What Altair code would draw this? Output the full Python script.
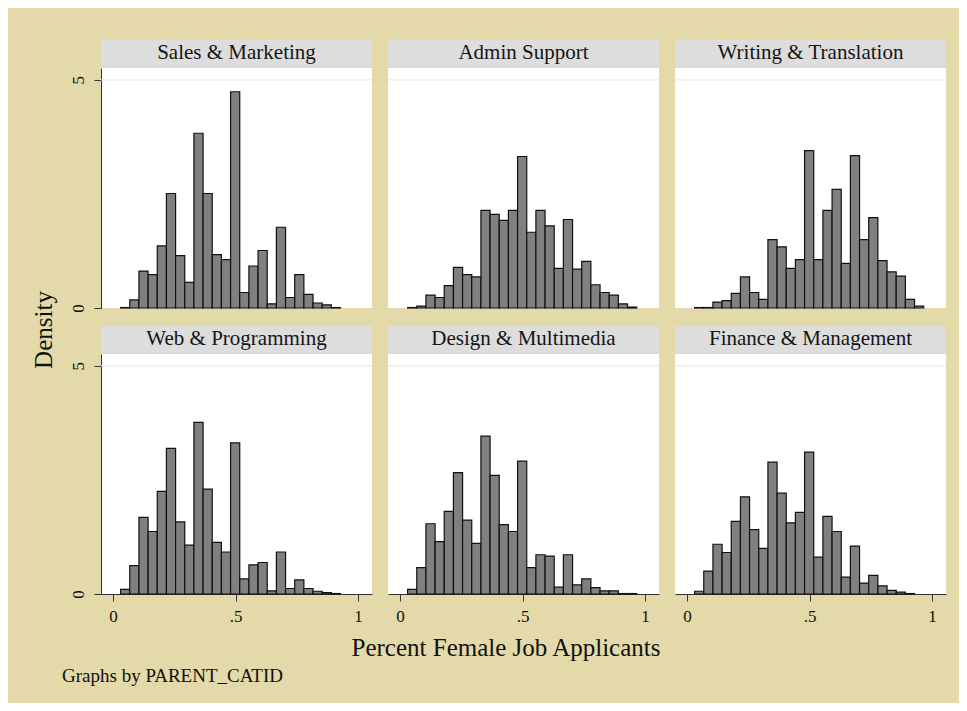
import altair as alt
import pandas as pd

FONT = "Liberation Serif"

categories = ["Sales & Marketing", "Admin Support", "Writing & Translation",
              "Web & Programming", "Design & Multimedia", "Finance & Management"]

# histogram bins (Stata-style equal width bins)
bin_start = 0.031
bin_width = 0.0374

sales_marketing = [0.01, 0.18, 0.81, 0.73, 1.36, 2.51, 1.15, 0.56, 3.83, 2.51, 1.17, 1.06,
                   4.74, 0.34, 0.92, 1.26, 0.09, 1.77, 0.23, 0.73, 0.30, 0.11, 0.07, 0.01]
admin_support = [0.01, 0.04, 0.28, 0.23, 0.49, 0.89, 0.73, 0.68, 2.14, 2.05, 1.92, 2.14,
                 3.32, 1.66, 2.14, 1.80, 0.87, 1.94, 0.85, 1.02, 0.51, 0.34, 0.28, 0.09, 0.02]
writing_translation = [0.01, 0.01, 0.13, 0.16, 0.32, 0.68, 0.34, 0.19, 1.50, 1.34, 0.87, 1.06,
                       3.45, 1.06, 2.14, 2.60, 0.98, 3.34, 1.50, 1.98, 1.04, 0.79, 0.70, 0.19, 0.04]
web_programming = [0.10, 0.62, 1.68, 1.37, 2.25, 3.19, 1.58, 1.07, 3.76, 2.30, 1.13, 0.92,
                   3.31, 0.33, 0.64, 0.69, 0.07, 0.92, 0.12, 0.31, 0.12, 0.06, 0.03, 0.01]
design_multimedia = [0.10, 0.58, 1.54, 1.15, 1.81, 2.66, 1.62, 1.11, 3.46, 2.60, 1.52, 1.37,
                     2.91, 0.58, 0.86, 0.83, 0.15, 0.86, 0.20, 0.33, 0.14, 0.07, 0.07, 0.01, 0.01]
finance_management = [0.06, 0.50, 1.09, 0.91, 1.59, 2.13, 1.41, 1.00, 2.89, 2.21, 1.56, 1.79,
                      3.11, 0.81, 1.70, 1.37, 0.37, 1.05, 0.24, 0.41, 0.18, 0.08, 0.04, 0.01]

series = [sales_marketing, admin_support, writing_translation,
          web_programming, design_multimedia, finance_management]

x_ticks = [0, 0.5, 1]
y_ticks = [0, 5]
grid_at = [5]
x_title = "Percent Female Job Applicants"
y_title = "Density"
note = "Graphs by PARENT_CATID"

W, H = 271, 240
HEADER = 28
xscale = alt.Scale(domain=[-0.049, 1.057], nice=False, zero=False)
yscale = alt.Scale(domain=[0, 5.26], nice=False, zero=False)


def one(txt):
    return pd.DataFrame({"t": [txt]})


def panel(idx):
    name = categories[idx]
    vals = series[idx]
    row, col = divmod(idx, 3)
    df = pd.DataFrame({
        "x0": [bin_start + i * bin_width for i in range(len(vals))],
        "density": vals,
    })
    df["x1"] = df["x0"] + bin_width
    df["base"] = 0.0

    if row == 1:
        xaxis = alt.Axis(values=x_ticks, title=None, grid=False, tickSize=7,
                         labelExpr="datum.value == 0.5 ? '.5' : format(datum.value, 'd')",
                         labelFontSize=17, labelPadding=7, labelColor="#111",
                         domainColor="#333", tickColor="#333", labelFont=FONT)
    else:
        xaxis = None
    if col == 0:
        yaxis = alt.Axis(values=y_ticks, title=None, grid=False, tickSize=7,
                         labelAngle=270, labelAlign="center", labelBaseline="middle",
                         labelFontSize=17, labelPadding=16, labelColor="#111",
                         domainColor="#333", tickColor="#333", labelFont=FONT)
    else:
        yaxis = None

    layers = []
    if idx == 0:
        # invisible frame fixing the overall chart extent
        layers.append(alt.Chart(one("frame")).mark_rect(opacity=0).encode(
            x=alt.value(-93), x2=alt.value(858), y=alt.value(-60), y2=alt.value(635)))

    grid = alt.Chart(pd.DataFrame({"g": grid_at})).mark_rule(
        color="#E4ECF0", strokeWidth=1.3).encode(y=alt.Y("g:Q", scale=yscale, axis=yaxis))
    bars = alt.Chart(df).mark_bar(fill="#808080", stroke="#111111", strokeWidth=1.2).encode(
        x=alt.X("x0:Q", scale=xscale, axis=xaxis),
        x2="x1:Q",
        y=alt.Y("density:Q", scale=yscale, axis=yaxis),
        y2="base:Q",
    )
    strip = alt.Chart(one(name)).mark_rect(fill="#DDDDDD").encode(
        x=alt.value(0), x2=alt.value(W), y=alt.value(-HEADER), y2=alt.value(-1))
    label = alt.Chart(one(name)).mark_text(font=FONT, fontSize=21, color="#151515",
                                           align="center", baseline="middle").encode(
        text="t:N", x=alt.value(W / 2), y=alt.value(-15))
    layers += [grid, bars, strip, label]

    if idx == 0:
        layers.append(alt.Chart(one(y_title)).mark_text(
            font=FONT, fontSize=25, color="#111", angle=270,
            align="center", baseline="middle").encode(
            text="t:N", x=alt.value(-57), y=alt.value(262)))
    if idx == 3:
        layers.append(alt.Chart(one(x_title)).mark_text(
            font=FONT, fontSize=25, color="#111", align="center",
            baseline="alphabetic").encode(
            text="t:N", x=alt.value(405), y=alt.value(302)))
        layers.append(alt.Chart(one(note)).mark_text(
            font=FONT, fontSize=19, color="#111", align="left",
            baseline="alphabetic").encode(
            text="t:N", x=alt.value(-39), y=alt.value(328)))

    return alt.layer(*layers).properties(width=W, height=H)


chart = alt.concat(*[panel(i) for i in range(6)], columns=3,
                   spacing={"row": 46, "column": 16}, bounds="flush").properties(
    background="#E3D9A9", padding=0
).configure(font=FONT).configure_view(stroke=None, fill="white")

chart.save("out.html", embed_options={"renderer": "svg", "actions": False})
